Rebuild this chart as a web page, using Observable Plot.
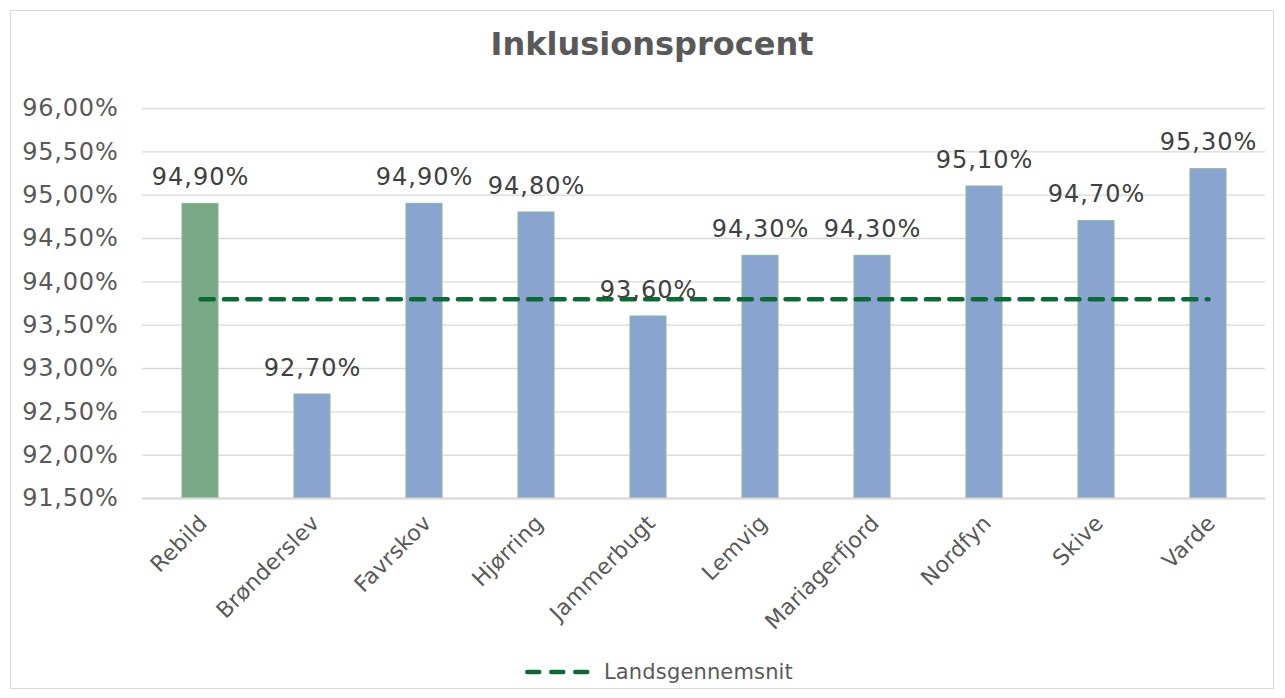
<!DOCTYPE html>
<html><head><meta charset="utf-8">
<script src="https://cdn.jsdelivr.net/npm/d3@7"></script>
<script src="https://cdn.jsdelivr.net/npm/@observablehq/plot@0.6"></script>
<style>
body{margin:0;background:#fff;font-family:"DejaVu Sans",Verdana,sans-serif;}
#wrap{position:relative;width:1285px;height:698px;overflow:hidden;}
#frame{position:absolute;left:10px;top:10px;width:1264px;height:679px;border:1px solid #d9d9d9;box-sizing:border-box;}
#chart{position:absolute;left:0;top:0;}
#title{position:absolute;left:0;width:1304px;top:24px;text-align:center;font-weight:bold;font-size:32px;color:#595959;line-height:40px;}
#legend{position:absolute;left:520px;top:656px;height:32px;display:flex;align-items:center;font-size:21px;color:#595959;letter-spacing:0.15px;}
#legend svg{margin-right:14px;}
.ytick text{letter-spacing:0.8px;}
.vlabel text{letter-spacing:1px;}
.xtick text{letter-spacing:0.2px;}
</style></head>
<body>
<div id="wrap"><div id="frame"></div><div id="chart"></div><div id="title"></div><div id="legend"></div></div>
<script>
const municipalities = ["Rebild","Brønderslev","Favrskov","Hjørring","Jammerbugt","Lemvig","Mariagerfjord","Nordfyn","Skive","Varde"];
const inclusion = [94.9, 92.7, 94.9, 94.8, 93.6, 94.3, 94.3, 95.1, 94.7, 95.3];
const nationalAverage = 93.8;
const highlighted = "Rebild";
const yTicks = [91.5, 92, 92.5, 93, 93.5, 94, 94.5, 95, 95.5, 96];
const titleText = "Inklusionsprocent";
const legendLabel = "Landsgennemsnit";

const data = municipalities.map((m, i) => ({municipality: m, value: inclusion[i]}));
const avgData = municipalities.map(m => ({municipality: m, value: nationalAverage}));
const fmt = v => v.toFixed(2).replace(".", ",") + "%";

const chart = Plot.plot({
  width: 1285, height: 698,
  marginLeft: 142, marginRight: 20, marginTop: 108, marginBottom: 200,
  style: {fontFamily: "DejaVu Sans, Verdana, sans-serif", background: "transparent", overflow: "visible"},
  x: {domain: municipalities, paddingInner: 0.68, paddingOuter: 0.34, label: null},
  y: {domain: [91.5, 96], label: null},
  color: {type: "identity"},
  marks: [
    Plot.gridY(yTicks, {stroke: "#d9d9d9", strokeOpacity: 1, strokeWidth: 1.3}),
    Plot.axisY(yTicks, {className: "ytick", tickSize: 0, tickPadding: 24, tickFormat: fmt, fontSize: 24, fill: "#595959"}),
    Plot.barY(data, {x: "municipality", y1: 91.5, y2: "value",
      fill: d => d.municipality === highlighted ? "#78A886" : "#8AA4CF",
      stroke: "#86b893", strokeWidth: 1}),
    Plot.ruleY([91.5], {stroke: "#d9d9d9", strokeWidth: 2}),
    Plot.line(avgData, {x: "municipality", y: "value", stroke: "#0b6a36", strokeWidth: 4.5,
      strokeDasharray: "13.2,10.2", strokeLinecap: "round"}),
    Plot.text(data, {className: "vlabel", x: "municipality", y: "value", text: d => fmt(d.value), dy: -19,
      lineAnchor: "bottom", fontSize: 24, fill: "#404040"}),
    Plot.axisX({className: "xtick", tickSize: 0, tickRotate: -45, tickPadding: 21, dx: 3, fontSize: 22, fill: "#595959"})
  ]
});
document.getElementById("chart").appendChild(chart);
document.getElementById("title").textContent = titleText;

const legend = document.getElementById("legend");
legend.innerHTML = `<svg width="70" height="12"><line x1="7.3" x2="67.3" y1="6" y2="6" stroke="#0b6a36" stroke-width="4.5" stroke-linecap="round" stroke-dasharray="12,12"/></svg><span>${legendLabel}</span>`;
</script>
</body></html>
